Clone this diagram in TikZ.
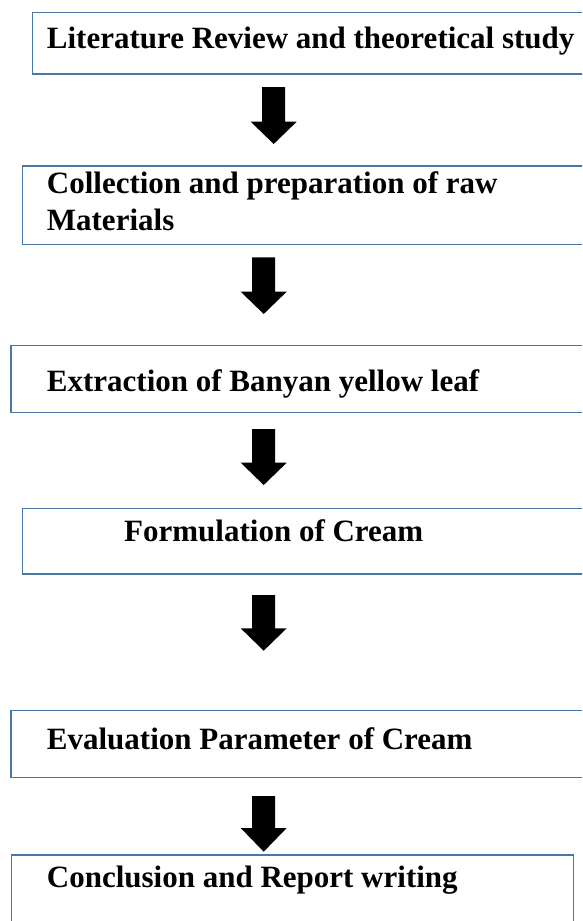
\documentclass[tikz,border=0pt]{standalone}
\usepackage{fontspec}
\setmainfont{Liberation Serif}
\definecolor{boxblue}{RGB}{72,118,165}
\newcommand{\blockarr}[5]{%
  \coordinate (#1) at (#2,-#3);
  \fill[black] (#2-11.5,-#3) -- (#2+11.5,-#3) -- (#2+11.5,-#4) -- (#2+23,-#4)
    -- (#2,-#5) -- (#2-23,-#4) -- (#2-11.5,-#4) -- cycle;}
\begin{document}
\begin{tikzpicture}[x=1pt,y=1pt,
  stepbox/.style={draw=boxblue, line width=1.4pt, fill=none},
  label/.style={anchor=base west, inner sep=0pt, font=\fontsize{31}{36.7}\selectfont\bfseries}]
\clip (0,0) rectangle (582,-921);
\fill[white] (0,0) rectangle (582,-921);
% boxes
\draw[stepbox] (32.3,-12.3) rectangle (600,-74) coordinate (b1);
\draw[stepbox] (22.7,-166) rectangle (600,-244.3) coordinate (b2);
\draw[stepbox] (11,-345.7) rectangle (600,-412.3) coordinate (b3);
\draw[stepbox] (22.7,-508.3) rectangle (600,-574) coordinate (b4);
\draw[stepbox] (11,-710.7) rectangle (600,-777.3) coordinate (b5);
\draw[stepbox] (11.7,-855) rectangle (573.3,-940) coordinate (b6);
% texts
\node[label] (t1) at (46.7,-48.3) {Literature Review and theoretical study};
\node[label] (t2a) at (46.7,-193.3) {Collection and preparation of raw};
\node[label] (t2b) at (46.7,-230) {Materials};
\node[label] (t3) at (46.7,-391.7) {Extraction of Banyan yellow leaf};
\node[label] (t4) at (124,-541.7) {Formulation of Cream};
\node[label] (t5) at (46.7,-749) {Evaluation Parameter of Cream};
\node[label] (t6) at (46.7,-887.3) {Conclusion and Report writing};
% arrows
\blockarr{a1}{273.7}{87}{121.7}{144}
\blockarr{a2}{263.7}{257.3}{291.7}{314}
\blockarr{a3}{263.7}{429}{462.7}{485}
\blockarr{a4}{263.7}{595}{628.3}{650.7}
\blockarr{a5}{263.7}{796}{828}{851.7}
\end{tikzpicture}
\end{document}
